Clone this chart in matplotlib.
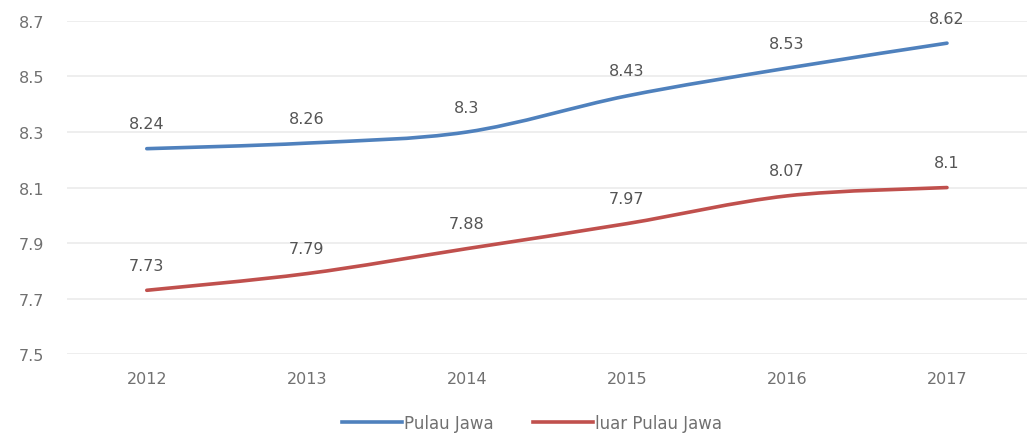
import matplotlib
matplotlib.use("Agg")
import matplotlib.pyplot as plt
from matplotlib.path import Path
from matplotlib.patches import PathPatch
import numpy as np

plt.rcParams['font.family'] = ['DejaVu Sans']

years = ['2012', '2013', '2014', '2015', '2016', '2017']
pulau_jawa = [8.24, 8.26, 8.3, 8.43, 8.53, 8.62]
luar_jawa = [7.73, 7.79, 7.88, 7.97, 8.07, 8.1]
yticks = [7.5, 7.7, 7.9, 8.1, 8.3, 8.5, 8.7]

blue = '#4f81bd'
red = '#c0504d'
grey = '#707070'


def smooth_path(xs, ys):
    # Catmull-Rom style cubic Bezier through the points (like a smoothed office line)
    pts = np.column_stack([xs, ys]).astype(float)
    verts = [pts[0]]
    codes = [Path.MOVETO]
    n = len(pts)
    for i in range(n - 1):
        p0 = pts[i - 1] if i > 0 else pts[i]
        p1 = pts[i]
        p2 = pts[i + 1]
        p3 = pts[i + 2] if i + 2 < n else pts[i + 1]
        c1 = p1 + (p2 - p0) / 6.0
        c2 = p2 - (p3 - p1) / 6.0
        verts += [c1, c2, p2]
        codes += [Path.CURVE4] * 3
    return Path(verts, codes)


fig = plt.figure(figsize=(10.27, 4.39), dpi=100)
ax = fig.add_axes([0.065, 0.191, 0.935, 0.759])

x = np.arange(len(years))
for vals, col in [(pulau_jawa, blue), (luar_jawa, red)]:
    patch = PathPatch(smooth_path(x, vals), facecolor='none', edgecolor=col,
                      lw=2.6, capstyle='round', zorder=3)
    ax.add_patch(patch)
    for xi, v in zip(x, vals):
        ax.annotate(f'{v:g}', (xi, v), xytext=(0, 18), textcoords='offset points',
                    ha='center', va='center', fontsize=11.5, color='#555555')

# legend handles
ax.plot([], [], color=blue, lw=2.6, label='Pulau Jawa')
ax.plot([], [], color=red, lw=2.6, label='luar Pulau Jawa')

ax.set_xlim(-0.5, len(years) - 0.5)
ax.set_ylim(7.5, 8.7)
ax.set_yticks(yticks)
ax.set_yticklabels([f'{t:g}' for t in yticks])
ax.set_xticks(x)
ax.set_xticklabels(years)
ax.tick_params(length=0, labelsize=11.5, labelcolor=grey)
ax.tick_params(axis='y', pad=16)
ax.tick_params(axis='x', pad=12)
ax.yaxis.grid(True, color='#ebebeb', lw=1.2)
ax.set_axisbelow(True)
for s in ax.spines.values():
    s.set_visible(False)

fig.legend(loc='center', bbox_to_anchor=(0.518, 0.034), ncol=2, frameon=False,
           fontsize=12, labelcolor=grey, handlelength=3.6, handletextpad=0.1,
           columnspacing=2.4)

fig.savefig('out.png', dpi=100, facecolor='white')
